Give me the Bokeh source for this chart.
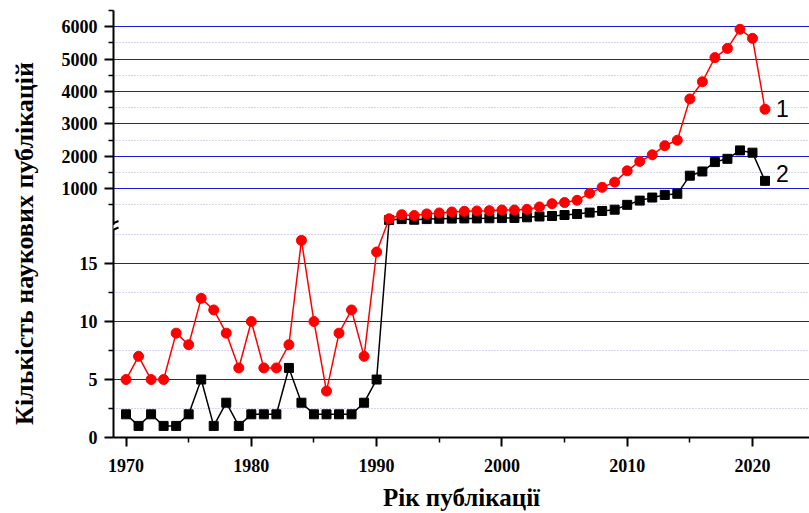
from bokeh.plotting import figure
from bokeh.models import FixedTicker, Range1d, Arrow
from bokeh.core.properties import value
from bokeh.embed import file_html
from bokeh.resources import INLINE

# ---------------- data ----------------
years = list(range(1970, 2022))
series1 = [5, 7, 5, 5, 9, 8, 12, 11, 9, 6, 10, 6, 6, 8, 17, 10, 4, 9, 11, 7, 16,
           70, 195, 170, 220, 250, 280, 300, 310, 320, 340, 340, 360, 435, 535, 570,
           640, 855, 1040, 1200, 1550, 1840, 2045, 2325, 2495, 3770, 4300, 5045,
           5330, 5920, 5640, 3450]
series2 = [2, 1, 2, 1, 1, 2, 5, 1, 3, 1, 2, 2, 2, 6, 3, 2, 2, 2, 2, 3, 5,
           30, 60, 40, 60, 70, 75, 80, 80, 85, 90, 95, 115, 140, 155, 185,
           215, 260, 310, 350, 500, 630, 725, 805, 840, 1400, 1530, 1820,
           1920, 2180, 2110, 1240]
labels = ["1", "2"]
lower_major = [0, 5, 10, 15]
lower_minor = [2.5, 7.5, 12.5, 17.5]
upper_major = [1000, 2000, 3000, 4000, 5000, 6000]
upper_minor = [500, 1500, 2500, 3500, 4500, 5500, 6500]
x_major = [1970, 1980, 1990, 2000, 2010, 2020]
x_minor = [1975, 1985, 1995, 2005, 2015]
y_title = "Кількість наукових публікацій"
x_title = "Рік публікації"

# ---------------- broken axis mapping ----------------
LOW_TOP = 18.67      # top of lower segment (lower units)
UP_SCALE = 358.0     # upper units per lower unit


def to_plot(v):
    return v if v <= LOW_TOP else round(LOW_TOP + v / UP_SCALE, 6)


y1 = [to_plot(v) for v in series1]
y2 = [to_plot(v) for v in series2]
y_top = to_plot(6500)

W, H = 809, 513
ML, MT, MB = 113, 10, 76
X0, X1 = 1969.0, 2024.55
PX_X = (W - ML) / (X1 - X0)
PX_Y = (H - MT - MB) / y_top

p = figure(width=W, height=H, output_backend="svg", toolbar_location=None,
           x_range=Range1d(X0, X1), y_range=Range1d(0, y_top),
           min_border_left=ML, min_border_right=0, min_border_top=MT,
           min_border_bottom=MB)
p.outline_line_color = None
p.background_fill_color = "white"
p.border_fill_color = "white"

# grids
GRID_BLUE = "#1a1ad0"
p.xgrid.visible = False
yg = p.ygrid[0]
yg.ticker = FixedTicker(ticks=[to_plot(t) for t in lower_major[1:]] + [to_plot(t) for t in upper_major],
                        minor_ticks=[to_plot(t) for t in lower_minor] + [to_plot(t) for t in upper_minor[:-1]])
yg.grid_line_color = GRID_BLUE
yg.grid_line_width = 1
yg.minor_grid_line_color = "#a8a8dc"
yg.minor_grid_line_dash = "1 2"
yg.minor_grid_line_width = 1

# y axis
ya = p.yaxis[0]
ytick_pos = [to_plot(t) for t in lower_major] + [to_plot(t) for t in upper_major]
ytick_lab = [str(t) for t in lower_major] + [str(t) for t in upper_major]
ya.ticker = FixedTicker(ticks=ytick_pos,
                        minor_ticks=[to_plot(t) for t in lower_minor[:-1]] + [to_plot(t) for t in upper_minor])
ya.major_label_overrides = {pos: lab for pos, lab in zip(ytick_pos, ytick_lab)}
# trailing en-spaces push the centred title slightly down, as in the original
ya.axis_label = y_title + "\u2002\u2002\u2002"
ya.axis_label_text_font = "Liberation Serif"
ya.axis_label_text_font_style = "bold"
ya.axis_label_text_font_size = "26px"
ya.axis_label_text_color = "black"
ya.axis_label_standoff = 20
ya.major_label_text_font = "Liberation Serif"
ya.major_label_text_font_style = "bold"
ya.major_label_text_font_size = "18px"
ya.major_label_text_color = "black"
ya.major_label_standoff = 7
ya.axis_line_width = 2
ya.axis_line_color = "black"
ya.major_tick_line_color = "black"
ya.minor_tick_line_color = "black"
ya.major_tick_line_width = 2
ya.minor_tick_line_width = 1.5
ya.major_tick_out = 9
ya.major_tick_in = 0
ya.minor_tick_out = 5
ya.minor_tick_in = 0

# x axis
xa = p.xaxis[0]
xa.ticker = FixedTicker(ticks=x_major, minor_ticks=x_minor)
xa.axis_label = x_title
xa.axis_label_text_font = "Liberation Serif"
xa.axis_label_text_font_style = "bold"
xa.axis_label_text_font_size = "25px"
xa.axis_label_text_color = "black"
xa.axis_label_standoff = 9
xa.major_label_text_font = "Liberation Serif"
xa.major_label_text_font_style = "bold"
xa.major_label_text_font_size = "18px"
xa.major_label_text_color = "black"
xa.major_label_standoff = 12
xa.axis_line_width = 2
xa.axis_line_color = "black"
xa.major_tick_line_color = "black"
xa.minor_tick_line_color = "black"
xa.major_tick_line_width = 2
xa.minor_tick_line_width = 1.5
xa.major_tick_out = 9
xa.major_tick_in = 0
xa.minor_tick_out = 5
xa.minor_tick_in = 0

# data
p.line(years, y2, line_color="black", line_width=1.5)
p.scatter(years, y2, marker="square", size=9, fill_color="black", line_color="black")
p.line(years, y1, line_color="#ff0000", line_width=1.5)
p.scatter(years, y1, marker="circle", size=10, fill_color="#ff0000", line_color="#ff0000")

p.text(x=[years[-1]], y=[y1[-1]], text=[labels[0]], x_offset=11, y_offset=-1,
       text_baseline="middle", text_font=value("Liberation Sans"), text_font_size="23px",
       text_color="black")
p.text(x=[years[-1]], y=[y2[-1]], text=[labels[1]], x_offset=11, y_offset=-7,
       text_baseline="middle", text_font=value("Liberation Sans"), text_font_size="23px",
       text_color="black")

# break marks on the y axis
centers = [LOW_TOP - 3.0 / PX_Y, LOW_TOP - 9.5 / PX_Y]
p.add_layout(Arrow(end=None, x_start=X0, y_start=centers[0] - 1 / PX_Y,
                   x_end=X0, y_end=centers[1] + 1 / PX_Y,
                   line_color="white", line_width=4))
for cy in centers:
    p.add_layout(Arrow(end=None, x_start=X0 - 9 / PX_X, y_start=cy - 3 / PX_Y,
                       x_end=X0 + 5 / PX_X, y_end=cy + 3 / PX_Y,
                       line_color="black", line_width=2))

open("out.html", "w").write(file_html(p, INLINE))
